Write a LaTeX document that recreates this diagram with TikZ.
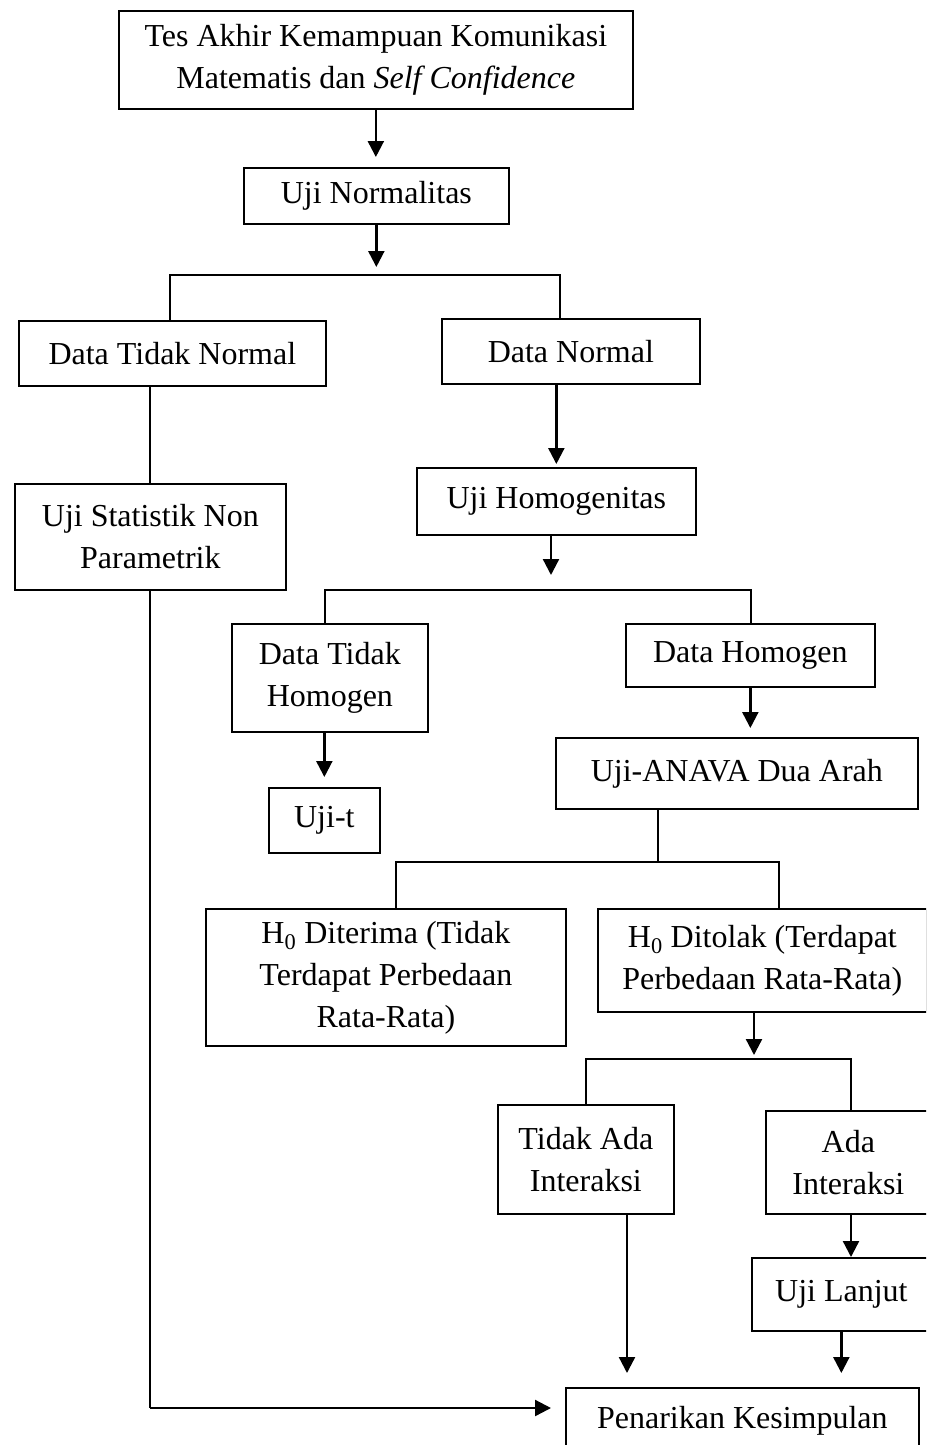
\documentclass[tikz,border=0pt]{standalone}
\usepackage{fontspec}
\setmainfont{Liberation Serif}
\usetikzlibrary{arrows.meta}
\begin{document}
\begin{tikzpicture}[x=1pt,y=-1pt,
  box/.style={draw, line width=1.7pt, inner sep=0pt, anchor=north west, align=center,
    font=\fontsize{32}{42}\selectfont},
  ln/.style={line width=1.1pt},
  arr/.style={line width=2.3pt, -{Triangle[width=16pt,length=16pt]}}]
\useasboundingbox (0,0) rectangle (926,1445);
\fill[white] (0,0) rectangle (926,1445);
\clip (0,0) rectangle (926,1445);

% boxes
\node[box, minimum width=514pt, minimum height=98pt] (title) at (118,10) {Tes Akhir Kemampuan Komunikasi\\Matematis dan \textit{Self Confidence}};
\node[box, minimum width=265pt, minimum height=56pt] (norm) at (243,167) {Uji Normalitas};
\node[box, minimum width=307pt, minimum height=65pt] (dtn) at (18,320) {Data Tidak Normal};
\node[box, minimum width=258pt, minimum height=65pt] (dn) at (441,318) {Data Normal};
\node[box, minimum width=271pt, minimum height=106pt] (usnp) at (14,483) {Uji Statistik Non\\Parametrik};
\node[box, minimum width=279pt, minimum height=67pt] (uh) at (416,467) {Uji Homogenitas};
\node[box, minimum width=196pt, minimum height=108pt] (dth) at (231,623) {Data Tidak\\Homogen};
\node[box, minimum width=249pt, minimum height=63pt] (dh) at (625,623) {Data Homogen};
\node[box, minimum width=111pt, minimum height=65pt] (ujit) at (268,787) {Uji-t};
\node[box, minimum width=362pt, minimum height=71pt] (anava) at (555,737) {Uji-ANAVA Dua Arah};
\node[box, minimum width=360pt, minimum height=137pt] (h0t) at (205,908) {H\textsubscript{0} Diterima (Tidak\\Terdapat Perbedaan\\Rata-Rata)};
\node[box, minimum width=329pt, minimum height=103pt] (h0d) at (597,908) {H\textsubscript{0} Ditolak (Terdapat\\Perbedaan Rata-Rata)};
\node[box, minimum width=176pt, minimum height=109pt] (tai) at (497,1104) {Tidak Ada\\Interaksi};
\node[box, minimum width=165pt, minimum height=103pt] (ai) at (765,1110) {Ada\\Interaksi};
\node[box, minimum width=179pt, minimum height=73pt] (ul) at (751,1257) {Uji Lanjut};
\node[box, minimum width=353pt, minimum height=65pt] (pk) at (565,1387) {Penarikan Kesimpulan};

% junction coordinates
\coordinate (nb) at (375,275);
\coordinate (nL) at (170,275);
\coordinate (nR) at (560,275);
\coordinate (xl) at (150,1408);
\coordinate (hb) at (551,590);
\coordinate (hL) at (325,590);
\coordinate (hR) at (751,590);
\coordinate (aB) at (658,862);
\coordinate (aL) at (396,862);
\coordinate (aR) at (779,862);
\coordinate (dB) at (754,1059);
\coordinate (dL) at (586,1059);
\coordinate (dR) at (851,1059);
\coordinate (tx) at (627,1300);

% connectors
\draw[arr, shorten >=10pt] (title.south) -- (title.south |- norm.north);
\draw[arr, shorten >=8pt] (norm.south) -- (norm.south |- nb);
\draw[ln] (dtn.north -| nL) -- (nL) -- (nR) -- (dn.north -| nR);
\draw[ln] (dtn.south -| xl) -- (usnp.north -| xl);
\draw[arr, shorten >=3pt] (dn.south -| uh.north) -- (uh.north);
\draw[arr, shorten >=15pt] (uh.south -| hb) -- (hb);
\draw[ln] (dth.north -| hL) -- (hL) -- (hR) -- (dh.north -| hR);
\draw[arr, shorten >=10pt] (dth.south -| ujit.north) -- (ujit.north);
\draw[arr, shorten >=9pt] (dh.south) -- (dh.south |- anava.north);
\draw[ln] (anava.south -| aB) -- (aB);
\draw[ln] (h0t.north -| aL) -- (aL) -- (aR) -- (h0d.north -| aR);
\draw[arr, shorten >=4pt] (h0d.south -| dB) -- (dB);
\draw[ln] (tai.north -| dL) -- (dL) -- (dR) -- (ai.north -| dR);
\draw[arr] (ai.south -| dR) -- (ul.north -| dR);
\draw[arr, shorten >=14pt] (ul.south) -- (ul.south |- pk.north);
\draw[arr, shorten >=14pt] (tai.south -| tx) -- (pk.north -| tx);
\draw[ln] (usnp.south -| xl) -- (xl);
\draw[arr, shorten >=14pt] (xl) -- (pk.west |- xl);
\end{tikzpicture}
\end{document}
